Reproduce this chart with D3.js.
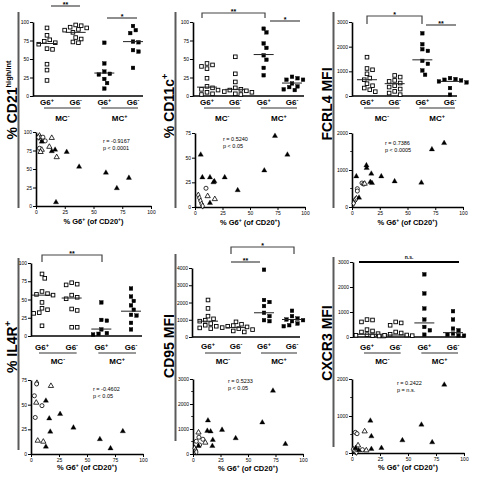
<!DOCTYPE html>
<html><head><meta charset="utf-8">
<script src="https://cdn.jsdelivr.net/npm/d3@7"></script>
<style>body{margin:0;background:#fff}svg{display:block}text{font-family:Arial,"Liberation Sans",sans-serif}</style>
</head><body><svg id="c" width="481" height="477"></svg>
<script>
// ---------- categories / labels ----------
const catBase = ["G6","G6","G6","G6"];
const catSup = ["+","-","+","-"];
const mcBase = ["MC","MC"];
const mcSup = ["-","+"];

// ---------- tick labels ----------
const pctTicks = [0,25,50,75,100];
const pct75Ticks = [0,25,50,75];
const mfi3000Ticks = [0,1000,2000,3000];
const mfi4000Ticks = [0,1000,2000,3000,4000];
const mfi2000Ticks = [0,1000,2000];
const mfi2000Minor = [500,1500];
const mfi3000Minor = [500,1500,2500];
const xPctTicks = [0,25,50,75,100];

// ---------- dot-plot values (MC- G6+, MC- G6-, MC+ G6+, MC+ G6-) ----------
const cd21Dots = [[92,82,76,74,72,70,64,63,43,35,21],[96,95,93,92,90,89,86,79,77,73,72],[72,44,33,30,29,23,17.5,10],[94.6,89,85,73.5,72.6,62,60,38]];
const cd21Med = [71,86,31,73.5];
const cd11cDots = [[44,42,40,37,24,13,11,9,8,5,3,2],[53,30,19,11,9,8,7,6,5,3,2],[91,86,71,65,55,49,38,28],[26,24,22,22,17,13,12,9,8]];
const cd11cMed = [12,9,56,17.5];
const fcrl4Dots = [[1574,1116,1063,900,726,660,500,417,323,255,175],[834,767,632,592,525,417,363,282,188,120,54],[2542,2098,1896,1829,1425,1305,1036,861],[726,686,659,632,592,551,323,54]];
const fcrl4Med = [660,500,1466,592];
const il4rDots = [[85,79,61,58,57,56,46,38,36,32,31,14],[73,71,70,56,53,51,37,35,12,12],[46,22,21,9,4,3,2],[65,54,48,42,36,29,28,18,9]];
const il4rMed = [56,52,9.5,34];
const cd95Dots = [[2145,1657,1209,1053,975,917,780,683,624,527,488],[878,741,663,624,585,546,488,429,351,293],[3900,2145,2028,1794,1404,1209,975,917],[1521,1209,1073,1014,975,917,780,683,624]];
const cd95Med = [917,546,1404,1014];
const cxcr3Dots = [[697,680,603,295,241,200,134,94,67,54,40],[603,563,469,200,160,107,80,67,54,40],[2506,1742,1139,697,402,268,94],[1032,697,335,268,134,94,67,54]];
const cxcr3Med = [107,80,563,174];

// ---------- scatter values [% G6+ of CD20+, y] ----------
const cd21Sc = {
  dia:[[3,95],[4,92],[5,90],[2,93]],
  circ:[[6,93],[8,88],[3,78]],
  otri:[[13.7,92],[5,76],[4,73],[11.6,80],[18,66]],
  ftri:[[5,87],[13.7,74],[16.6,76],[26.7,73],[37.5,53],[60.8,45],[80.8,38],[70.3,24],[17.4,5]]
};
const cd11cSc = {
  dia:[[3,12],[4,9],[5,6],[6,3],[7,1]],
  circ:[[10,19]],
  otri:[[11.5,11],[18,8]],
  ftri:[[5.2,53],[6.7,30],[13.6,30],[17.6,26],[16.8,25],[27,30],[38.8,17],[63,37],[72.7,72],[84,53],[13.6,4]]
};
const fcrl4Sc = {
  dia:[[2,150],[3,200],[4,230],[1.5,100]],
  circ:[[9,648],[10.5,620],[4.8,495],[4.8,432]],
  otri:[[11.4,630]],
  ftri:[[3.9,828],[13,1125],[13.2,1053],[17.4,900],[26.4,828],[38.4,693],[62.5,657],[72,1557],[83,1728],[16.5,675],[18,648],[6.3,252]]
};
const il4rSc = {
  dia:[[5.3,72]],
  circ:[[3,59],[9.8,49],[3.8,37],[5,71]],
  otri:[[17.8,69],[4.7,52],[6,13.5],[11,12.5]],
  ftri:[[13.3,54],[16.3,36],[26,40.5],[37.9,26.7],[17.2,22.6],[61.5,15],[71,5.7],[82,23],[13.3,7.4]]
};
const cd95Sc = {
  dia:[[1.5,230],[2.5,150],[3,80]],
  circ:[[5.4,670],[9,590],[3,510],[6,362]],
  otri:[[11.2,455],[5,860]],
  ftri:[[72.7,2530],[63,1260],[13.6,1340],[26.4,965],[13,925],[16,900],[38.8,630],[84,400],[18,563],[17.6,320],[5,320]]
};
const cxcr3Sc = {
  dia:[[1,100],[2,60],[3,40],[4,20]],
  circ:[[3,558],[4.5,522],[9.3,90]],
  otri:[[11.3,585],[5.4,207],[12.8,72]],
  ftri:[[82.4,1845],[62,765],[71.6,288],[45,342],[16.4,873],[17.3,450],[26.3,135],[17.3,108],[3.3,135],[6,72]]
};

// ---------- correlation statistics ----------
const cd21Stats = ["r = -0.9167","p < 0.0001"];
const cd11cStats = ["r = 0.5240","p < 0.05"];
const fcrl4Stats = ["r = 0.7386","p < 0.0005"];
const il4rStats = ["r = -0.4602","p < 0.05"];
const cd95Stats = ["r = 0.5233","p < 0.05"];
const cxcr3Stats = ["r = 0.2422","p = n.s."];

// ---------- panel definitions (layout) ----------
const panels = [
 {label:["% CD21","high/int"], dots:cd21Dots, med:cd21Med, yMax:100, yTicks:pctTicks, sc:cd21Sc, scMax:100, scTicks:pctTicks, scMinor:[], stats:cd21Stats,
  sig:[{x1:51,x2:80,y:6,t:"**"},{x1:107,x2:137,y:18,t:"*"}],
  L:{lx:16.5,ly:100,bx:18.5,by1:12,by2:208, ax:33,axEnd:143,y0:96,yTop:22,c0:47,c3:133,catY:105,ulY:108,mcY:121,
     sx0:36,sx1:151,sy0:206,syTop:132,stx:103,sty:143,xly:224}},
 {label:["% CD11c","+"], dots:cd11cDots, med:cd11cMed, yMax:100, yTicks:pctTicks, sc:cd11cSc, scMax:75, scTicks:pct75Ticks, scMinor:[], stats:cd11cStats,
  sig:[{x1:202,x2:265,y:13,leg:5,t:"**"},{x1:270,x2:300,y:21,t:"*"}],
  L:{lx:174,ly:106,bx:175.5,by1:12,by2:208, ax:193,axEnd:304,y0:96,yTop:22,c0:207,c3:292,catY:105,ulY:108,mcY:121,
     sx0:195,sx1:305,sy0:207,syTop:133,stx:223,sty:141,xly:225}},
 {label:["FCRL4 MFI",""], dots:fcrl4Dots, med:fcrl4Med, yMax:3000, yTicks:mfi3000Ticks, sc:fcrl4Sc, scMax:2000, scTicks:mfi2000Ticks, scMinor:mfi2000Minor, stats:fcrl4Stats,
  sig:[{x1:367,x2:422,y:16,leg:8,t:"*"},{x1:426,x2:456,y:25,t:"**"}],
  L:{lx:332,ly:104,bx:333.5,by1:12,by2:208, ax:352,axEnd:457,y0:96,yTop:22,c0:367,c3:450,catY:105,ulY:108,mcY:121,
     sx0:352,sx1:463,sy0:207,syTop:133,stx:385,sty:145,xly:225}},
 {label:["% IL4R","+"], dots:il4rDots, med:il4rMed, yMax:100, yTicks:pctTicks, sc:il4rSc, scMax:75, scTicks:pct75Ticks, scMinor:[], stats:il4rStats,
  sig:[{x1:42,x2:102,y:255,leg:7,t:"**"}],
  L:{lx:16.5,ly:347,bx:18.5,by1:258,by2:450, ax:31,axEnd:142,y0:336,yTop:263,c0:42,c3:131,catY:350,ulY:353,mcY:364,
     sx0:31,sx1:143,sy0:454,syTop:380,stx:93,sty:391,xly:470}},
 {label:["CD95 MFI",""], dots:cd95Dots, med:cd95Med, yMax:4000, yTicks:mfi4000Ticks, sc:cd95Sc, scMax:3000, scTicks:mfi3000Ticks, scMinor:mfi3000Minor, stats:cd95Stats,
  sig:[{x1:231,x2:294,y:247,leg:7,t:"*"},{x1:231,x2:260,y:262,t:"**"}],
  L:{lx:174,ly:346,bx:175.5,by1:254,by2:441, ax:192,axEnd:300,y0:337,yTop:268,c0:208,c3:292,catY:349,ulY:353,mcY:364,
     sx0:193,sx1:303,sy0:454,syTop:379,stx:228,sty:383,xly:471}},
 {label:["CXCR3 MFI",""], dots:cxcr3Dots, med:cxcr3Med, yMax:3000, yTicks:mfi3000Ticks, sc:cxcr3Sc, scMax:2000, scTicks:mfi2000Ticks, scMinor:mfi2000Minor, stats:cxcr3Stats,
  sig:[{x1:359,x2:459,y:262,t:"n.s.",thick:true}],
  L:{lx:332,ly:343,bx:333.5,by1:257,by2:447, ax:353,axEnd:465,y0:337,yTop:262,c0:367,c3:453,catY:350,ulY:353,mcY:364,
     sx0:352,sx1:464,sy0:453,syTop:379,stx:397,sty:385,xly:470}}
];

const svg = d3.select("#c");
const fmt = d3.format("d");

function styleAxis(g){
  g.attr("font-size",null).attr("font-family",null);
  g.select(".domain").attr("stroke","#000").attr("stroke-width",1.6);
  g.selectAll(".tick line").attr("stroke","#000").attr("stroke-width",1);
  g.selectAll(".tick text").attr("font-size","5px").attr("fill","#000").attr("font-family","Arial, Liberation Sans, sans-serif");
}

function swarm(vals, yS, cx, d){
  const pts = vals.map(v=>({v, py:yS(v)})).sort((a,b)=>a.py-b.py);
  const placed=[];
  const s=d*0.6;
  pts.forEach(p=>{
    for(let k=0;k<60;k++){
      const off = k===0?0:(k%2?1:-1)*Math.ceil(k/2)*s;
      const px = cx+off;
      if(placed.every(q=>(q.px-px)**2+(q.py-p.py)**2>=d*d)){p.px=px;break;}
    }
    if(p.px===undefined)p.px=cx;
    placed.push(p);
  });
  return placed;
}

panels.forEach(p=>{
  const L=p.L;
  const g=svg.append("g");

  // vertical label
  const lt = g.append("text").attr("transform",`translate(${L.lx},${L.ly}) rotate(-90)`)
    .attr("text-anchor","middle").attr("font-weight","bold").attr("fill","#000");
  lt.append("tspan").attr("font-size","14px").text(p.label[0]);
  if(p.label[1]) lt.append("tspan").attr("font-size",p.label[1].length>2?"7.5px":"9px").attr("dy",-6).text(p.label[1]);

  // gray vertical bar
  g.append("line").attr("x1",L.bx).attr("x2",L.bx).attr("y1",L.by1).attr("y2",L.by2)
    .attr("stroke","#5a5a5a").attr("stroke-width",2);

  // ---- dot plot ----
  const y = d3.scaleLinear().domain([0,p.yMax]).range([L.y0,L.yTop]);
  const x = d3.scalePoint().domain([0,1,2,3]).range([L.c0,L.c3]);
  const ya = g.append("g").attr("transform",`translate(${L.ax},0)`)
    .call(d3.axisLeft(y).tickValues(p.yTicks).tickSize(3).tickSizeOuter(0).tickPadding(1).tickFormat(fmt));
  styleAxis(ya);
  g.append("line").attr("x1",L.ax).attr("x2",L.axEnd).attr("y1",L.y0).attr("y2",L.y0)
    .attr("stroke","#000").attr("stroke-width",1.6);

  p.dots.forEach((vals,gi)=>{
    const filled = gi>=2;
    const pts = swarm(vals,y,x(gi),4.6);
    g.selectAll(null).data(pts).enter().append("rect")
      .attr("x",d=>d.px-1.8).attr("y",d=>d.py-1.8).attr("width",3.6).attr("height",3.6)
      .attr("fill",filled?"#000":"#fff").attr("stroke","#000").attr("stroke-width",filled?0.4:0.9);
    g.append("line").attr("x1",x(gi)-10).attr("x2",x(gi)+10).attr("y1",y(p.med[gi])).attr("y2",y(p.med[gi]))
      .attr("stroke","#222").attr("stroke-width",1);
    const ct = g.append("text").attr("x",x(gi)).attr("y",L.catY).attr("text-anchor","middle")
      .attr("font-weight","bold").attr("font-size","8px").attr("fill","#000");
    ct.append("tspan").text(catBase[gi]);
    ct.append("tspan").attr("font-size","5.5px").attr("dy",-3.2).text(catSup[gi]);
  });
  // MC underlines and labels
  [0,1].forEach(k=>{
    const a=x(2*k), b=x(2*k+1);
    g.append("line").attr("x1",a-3).attr("x2",b+5).attr("y1",L.ulY).attr("y2",L.ulY)
      .attr("stroke","#333").attr("stroke-width",1.2);
    const mt = g.append("text").attr("x",(a+b)/2+1).attr("y",L.mcY).attr("text-anchor","middle")
      .attr("font-weight","bold").attr("font-size","8px").attr("fill","#000");
    mt.append("tspan").text(mcBase[k]);
    mt.append("tspan").attr("font-size","5.5px").attr("dy",-3.2).text(mcSup[k]);
  });
  // significance
  p.sig.forEach(s=>{
    const col = s.thick?"#000":"#444";
    const path = s.leg ? `M${s.x1},${s.y+s.leg}V${s.y}H${s.x2}V${s.y+s.leg}` : `M${s.x1},${s.y}H${s.x2}`;
    g.append("path").attr("d",path).attr("fill","none").attr("stroke",col).attr("stroke-width",s.thick?1.8:1.2);
    g.append("text").attr("x",(s.x1+s.x2)/2).attr("y",s.thick?s.y-3:s.y+0.8).attr("text-anchor","middle")
      .attr("font-size",s.thick?"5px":"7px").attr("font-weight","bold").attr("fill","#000").text(s.t);
  });

  // ---- scatter ----
  const sx = d3.scaleLinear().domain([0,100]).range([L.sx0,L.sx1]);
  const sy = d3.scaleLinear().domain([0,p.scMax]).range([L.sy0,L.syTop]);
  const sya = g.append("g").attr("transform",`translate(${L.sx0},0)`)
    .call(d3.axisLeft(sy).tickValues(p.scTicks).tickSize(3).tickSizeOuter(0).tickPadding(1).tickFormat(fmt));
  styleAxis(sya);
  p.scMinor.forEach(v=>{
    g.append("line").attr("x1",L.sx0-1.8).attr("x2",L.sx0).attr("y1",sy(v)).attr("y2",sy(v)).attr("stroke","#000").attr("stroke-width",0.8);
  });
  const sxa = g.append("g").attr("transform",`translate(0,${L.sy0})`)
    .call(d3.axisBottom(sx).tickValues(xPctTicks).tickSize(3).tickSizeOuter(0).tickPadding(1).tickFormat(fmt));
  styleAxis(sxa);

  const sym = {
    dia: d3.symbol().type(d3.symbolDiamond).size(11),
    circ: d3.symbol().type(d3.symbolCircle).size(13),
    otri: d3.symbol().type(d3.symbolTriangle).size(12),
    ftri: d3.symbol().type(d3.symbolTriangle).size(12)
  };
  ["dia","circ","otri","ftri"].forEach(k=>{
    g.selectAll(null).data(p.sc[k]).enter().append("path")
      .attr("d",sym[k]).attr("transform",d=>`translate(${sx(d[0])},${sy(d[1])})`)
      .attr("fill",k==="ftri"?"#000":"#fff").attr("stroke","#000").attr("stroke-width",k==="ftri"?0.3:0.8);
  });
  // stats
  p.stats.forEach((t,i)=>{
    g.append("text").attr("x",L.stx).attr("y",L.sty+i*6.5).attr("font-size","5.5px").attr("fill","#000").text(t);
  });
  // x label
  const xl = g.append("text").attr("x",(L.sx0+L.sx1)/2).attr("y",L.xly).attr("text-anchor","middle")
    .attr("font-weight","bold").attr("fill","#000");
  xl.append("tspan").attr("font-size","7.5px").text("% G6");
  xl.append("tspan").attr("font-size","5px").attr("dy",-3).text("+");
  xl.append("tspan").attr("font-size","7.5px").attr("dy",3).text(" (of CD20");
  xl.append("tspan").attr("font-size","5px").attr("dy",-3).text("+");
  xl.append("tspan").attr("font-size","7.5px").attr("dy",3).text(")");
});
</script></body></html>
